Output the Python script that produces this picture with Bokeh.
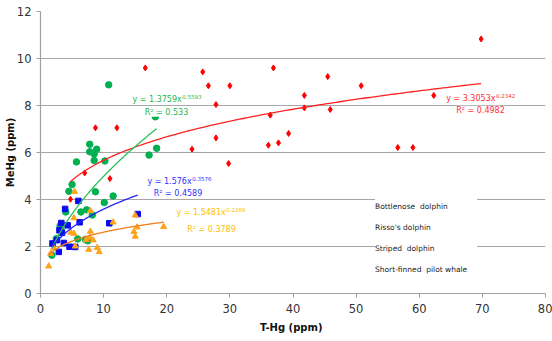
import numpy as np
from bokeh.plotting import figure
from bokeh.models import Label, Legend, LegendItem, Range1d
from bokeh.embed import file_html
from bokeh.resources import INLINE

# ---------------- data ----------------
species = ["Bottlenose  dolphin", "Risso's dolphin", "Striped  dolphin", "Short-finned  pilot whale"]

green_x = [1.8, 2.5, 3.1, 3.3, 4.0, 4.5, 5.0, 5.7, 5.9, 6.4, 7.1, 7.3, 7.5, 7.8, 7.8, 8.2,
           8.5, 8.5, 8.7, 8.9, 10.1, 10.2, 10.8, 11.5, 17.2, 18.2, 18.4]
green_y = [1.63, 2.33, 2.88, 2.68, 3.47, 4.35, 4.64, 5.60, 2.32, 3.47, 2.30, 3.56, 2.24, 6.35, 6.03, 3.34,
           5.94, 5.66, 4.33, 6.14, 3.87, 5.64, 8.88, 4.15, 5.89, 7.52, 6.18]

red_x = [4.75, 7.0, 8.7, 11.0, 12.1, 16.6, 24.0, 25.7, 26.6, 27.8, 27.8, 29.8, 30.0, 36.1, 36.4,
         36.9, 37.7, 39.3, 41.8, 41.8, 45.5, 45.9, 50.8, 56.6, 59.0, 62.3, 69.8]
red_y = [4.01, 5.13, 7.05, 4.89, 7.05, 9.60, 6.14, 9.43, 8.84, 8.04, 6.62, 5.53, 8.84, 6.31, 7.59,
         9.60, 6.41, 6.81, 8.43, 7.90, 9.23, 7.83, 8.84, 6.21, 6.21, 8.43, 10.83]

blue_x = [1.9, 2.6, 2.9, 3.0, 3.3, 3.4, 3.7, 3.9, 4.3, 4.6, 5.5, 6.0, 6.2, 10.9, 15.4]
blue_y = [2.13, 2.27, 1.77, 2.69, 3.00, 2.58, 2.15, 3.60, 2.90, 1.99, 1.98, 3.94, 3.03, 2.99, 3.38]

orange_x = [1.3, 1.6, 2.1, 4.8, 5.3, 5.3, 5.4, 5.5, 7.2, 7.65, 7.8, 7.9, 7.9, 8.35, 9.0, 9.3,
            11.5, 14.8, 15.0, 15.0, 15.3, 19.5]
orange_y = [1.16, 1.70, 1.95, 2.60, 2.55, 3.21, 4.33, 2.01, 2.28, 1.87, 2.38, 2.64, 3.52, 2.27, 1.95, 1.77,
            3.03, 2.63, 3.33, 2.43, 2.82, 2.84]

# power-law trendlines y = a * x^b (coefficients as printed on the chart)
fit_a = {"green": 1.3759, "red": 3.3053, "blue": 1.576, "orange": 1.5481}
fit_b = {"green": 0.5593, "red": 0.2342, "blue": 0.3576, "orange": 0.2268}
fit_r2 = {"green": "0.533", "red": "0.4982", "blue": "0.4589", "orange": "0.3789"}
fit_a_txt = {"green": "1.3759", "red": "3.3053", "blue": "1.576", "orange": "1.5481"}
fit_b_txt = {"green": "0.5593", "red": "0.2342", "blue": "0.3576", "orange": "0.2268"}

x_ticks = [0, 10, 20, 30, 40, 50, 60, 70, 80]
y_ticks = [0, 2, 4, 6, 8, 10, 12]

# ---------------- styling ----------------
FONT = "DejaVu Sans"
marker_col = {"green": "#00B050", "red": "#FF0000", "blue": "#0A0AF0", "orange": "#FFA31A"}
line_col = {"green": "#2DBE5A", "red": "#FF2020", "blue": "#2323F5", "orange": "#F07E1A"}
text_col = {"green": "#22B84A", "red": "#FF3030", "blue": "#3030FF", "orange": "#FFC000"}

p = figure(width=552, height=341, output_backend="svg", toolbar_location=None,
           x_range=Range1d(0, 80), y_range=Range1d(0, 12),
           min_border_left=40, min_border_right=7, min_border_top=11, min_border_bottom=48)
p.outline_line_color = None
p.background_fill_color = "white"
p.border_fill_color = "white"

p.xgrid.grid_line_color = None
p.ygrid.grid_line_color = "#A6A6A6"
p.ygrid.grid_line_width = 1.2
p.xaxis.ticker = x_ticks
p.yaxis.ticker = y_ticks

for ax in (p.xaxis, p.yaxis):
    ax.axis_line_color = "#A0A0A0"
    ax.axis_line_width = 1.2
    ax.major_tick_line_color = "#A0A0A0"
    ax.major_tick_in = 0
    ax.major_tick_out = 4
    ax.minor_tick_line_color = None
    ax.major_label_text_font = FONT
    ax.major_label_text_font_size = "11.5px"
    ax.major_label_text_color = "#333333"
    ax.axis_label_text_font = FONT
    ax.axis_label_text_font_size = "10px"
    ax.axis_label_text_font_style = "bold"
    ax.axis_label_text_color = "#111111"

p.xaxis.axis_label = "T-Hg  (ppm)"
p.yaxis.axis_label = "MeHg (ppm)"
p.xaxis.major_label_standoff = 6
p.yaxis.major_label_standoff = 5
p.xaxis.axis_label_standoff = 6
p.yaxis.axis_label_standoff = -2

# ---------------- scatter series ----------------
r_green = p.scatter(green_x, green_y, marker="circle", size=6.5, fill_color=marker_col["green"],
                    line_color=marker_col["green"])
r_red = p.scatter(red_x, red_y, marker="diamond", size=6, fill_color=marker_col["red"],
                  line_color=marker_col["red"])
r_blue = p.scatter(blue_x, blue_y, marker="square", size=5.5, fill_color=marker_col["blue"],
                   line_color=marker_col["blue"])
r_orange = p.scatter(orange_x, orange_y, marker="triangle", size=6, fill_color=marker_col["orange"],
                     line_color=marker_col["orange"])

# ---------------- trendlines ----------------
series_x = {"green": green_x, "red": red_x, "blue": blue_x, "orange": orange_x}
for k in ["red", "green", "blue", "orange"]:
    xs = np.linspace(min(series_x[k]), max(series_x[k]), 120)
    p.line(xs, fit_a[k] * xs ** fit_b[k], line_color=line_col[k], line_width=1.3)

# ---------------- trendline equations ----------------
CW = {"0": .636, "1": .636, "2": .636, "3": .636, "4": .636, "5": .636, "6": .636, "7": .636,
      "8": .636, "9": .636, ".": .318, " ": .318, "=": .838, "y": .592, "x": .592}


def text_w(s, size):
    return sum(CW.get(c, .6) for c in s) * size


EQ_SIZE = 8
eq_pos = {  # (left x of equation, y), (centre x of R² line, y) in data units
    "green": ((14.57, 8.27), (19.96, 7.71)),
    "blue": ((16.95, 4.75), (21.78, 4.26)),
    "orange": ((21.54, 3.45), (27.09, 2.74)),
    "red": ((64.27, 8.30), (69.70, 7.80)),
}
for k, ((ex, ey), (rx, ry)) in eq_pos.items():
    main = "y = %sx" % fit_a_txt[k]
    w = text_w(main, EQ_SIZE)
    exp_w = text_w(fit_b_txt[k], 5.5)
    # white box behind equation
    p.add_layout(Label(x=ex, y=ey, text=main + " " * int(exp_w / (0.318 * EQ_SIZE) + 1),
                       text_font=FONT, text_font_size="%dpx" % EQ_SIZE, text_color="white",
                       text_align="left", text_baseline="middle", x_offset=-2,
                       background_fill_color="white"))
    p.add_layout(Label(x=ex, y=ey, text=main, text_font=FONT, text_font_size="%dpx" % EQ_SIZE,
                       text_color=text_col[k], text_align="left", text_baseline="middle"))
    p.add_layout(Label(x=ex, y=ey, x_offset=w + 0.5, y_offset=3, text=fit_b_txt[k], text_font=FONT,
                       text_font_size="5.5px", text_color=text_col[k], text_align="left",
                       text_baseline="middle"))
    p.add_layout(Label(x=rx, y=ry, text="R² = %s" % fit_r2[k], text_font=FONT,
                       text_font_size="%dpx" % EQ_SIZE, text_color=text_col[k], text_align="center",
                       text_baseline="middle", background_fill_color="white"))

# ---------------- legend (text only, as in the original) ----------------
legend = Legend(items=[LegendItem(label=species[0], renderers=[r_green]),
                       LegendItem(label=species[1], renderers=[r_red]),
                       LegendItem(label=species[2], renderers=[r_blue]),
                       LegendItem(label=species[3], renderers=[r_orange])],
                location=(335, 15), orientation="vertical",
                glyph_width=0, glyph_height=18, label_height=18, spacing=3,
                label_standoff=0, padding=6, margin=0, label_width=102,
                label_text_font=FONT, label_text_font_size="7.5px", label_text_color="#222222",
                background_fill_color="white", background_fill_alpha=1.0,
                border_line_color=None)
p.add_layout(legend, "center")

open("out.html", "w").write(file_html(p, INLINE))
